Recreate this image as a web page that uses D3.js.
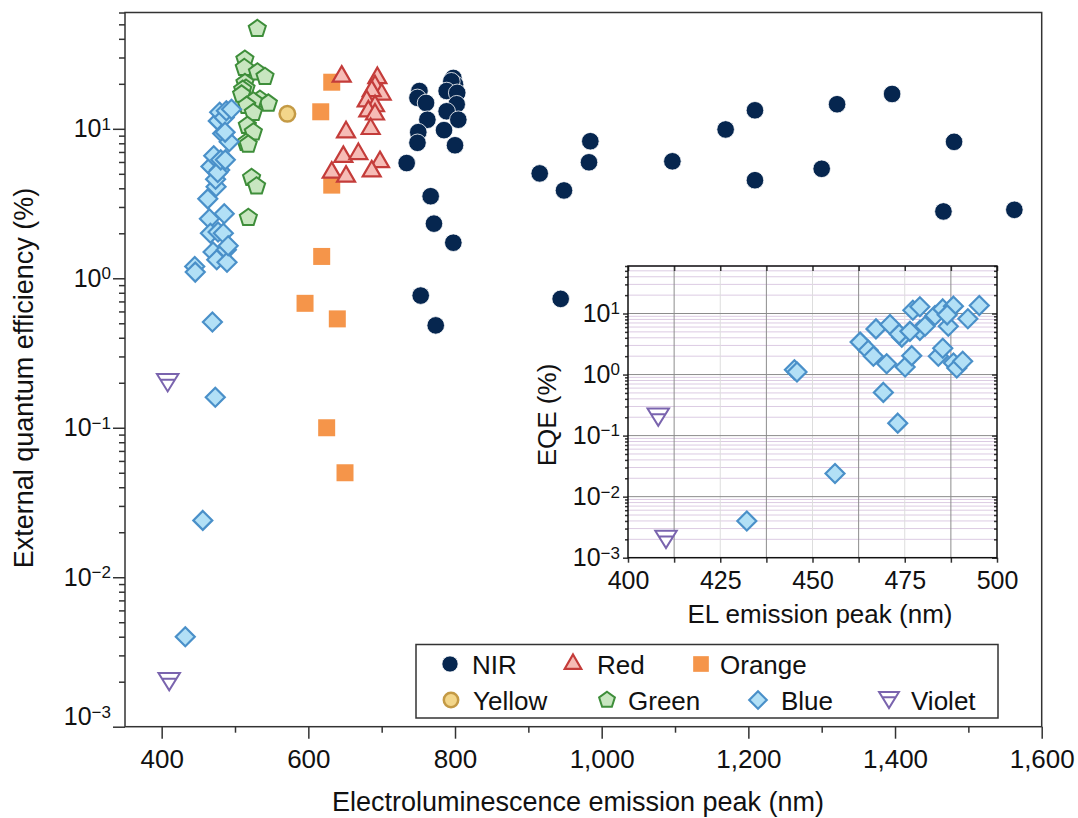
<!DOCTYPE html>
<head>
<meta charset="utf-8">
<script src="https://cdn.jsdelivr.net/npm/d3@7"></script>
<style>
body { margin: 0; background: #fff; font-family: "Liberation Sans", Arial, Helvetica, sans-serif; }
.axis line { stroke: #333; stroke-width: 1.5; }
.axis path { display: none; }
.frame { fill: none; stroke: #333; stroke-width: 1.5; }
</style>
<body>
<script>

// data: [emission peak (nm), EQE (%)]
var nirData = [
  [751.5, 17.9], [748.8, 16.1], [760.5, 14.9], [797.7, 21.9], [800, 19.8], [795, 20.8],
  [788.6, 17.9], [803, 17.4], [802.3, 14.6], [788.6, 13.1], [804.5, 11.5], [762.3, 11.5],
  [785, 9.8], [749.9, 9.5], [748.8, 8.06], [800, 7.76], [734.1, 5.9], [766.8, 3.54],
  [771.3, 2.32], [797.7, 1.73], [753.2, 0.766], [773.7, 0.484], [915.5, 5.03], [948.6, 3.87],
  [984.5, 8.26], [982.7, 5.97], [944.1, 0.728], [1096.4, 6.06], [1169, 9.9], [1209, 13.3],
  [1209, 4.53], [1300, 5.4], [1321, 14.6], [1396, 17.1], [1480.5, 8.18], [1466, 2.8], [1562.7, 2.87]
];
var redData = [
  [645.5, 22.4], [694.1, 21.9], [690.9, 19.3], [700, 17.0], [686.4, 17.9], [679.6, 15.3],
  [690.9, 14.2], [681.8, 13.1], [690.9, 12.5], [685, 10.0], [651.4, 9.5], [647.7, 6.5],
  [668.2, 6.8], [697.7, 6.0], [686.4, 5.2], [631.9, 5.1], [651.4, 4.8]
];
var orangeData = [
  [631.9, 20.5], [616.9, 13.0], [631.9, 4.2], [618.2, 1.40], [595.5, 0.68], [639.5, 0.535],
  [625, 0.1], [650, 0.05]
];
var yellowData = [[571.4, 12.6]];
var greenData = [
  [530.4, 46.7], [513.5, 29.1], [512.7, 25.6], [530.6, 23.9], [540.9, 22.3], [513.6, 20.3],
  [515, 18.6], [510.5, 18.3], [509, 17], [534, 15.7], [545.5, 14.8], [525, 15.3], [516, 14.3],
  [525, 12.8], [516.8, 10.5], [525, 9.5], [514.9, 8.06], [518, 7.85], [522.6, 4.7],
  [529.4, 4.13], [518.2, 2.54]
];
var blueData = [
  [445.1, 1.2], [445.8, 1.1], [432.2, 0.004], [456.1, 0.024], [469.2, 0.51], [473.1, 0.16],
  [462.9, 3.4], [465.1, 2.5], [466.5, 2.0], [467.2, 5.6], [470.1, 1.5], [471, 6.6],
  [474.2, 4.1], [473.5, 4.6], [475.1, 1.33], [476.9, 2.04], [477.2, 11.3], [479.1, 12.9],
  [479.1, 5.3], [476.4, 5.1], [480.5, 6.2], [483.2, 9.3], [484.1, 2.0], [485.3, 2.7],
  [485.3, 11.9], [486.8, 6.2], [488.2, 13.2], [488.2, 1.55], [489.1, 1.28], [490.7, 1.65],
  [492.1, 8.2], [495.2, 13.5], [486.5, 9.5]
];
var violetData = [[408.2, 0.2], [410.3, 0.002]];

var xTicksMain = [400, 600, 800, 1000, 1200, 1400, 1600];
var xMinorMain = [500, 700, 900, 1100, 1300, 1500];
var yDecades = [1e-3, 1e-2, 1e-1, 1, 10];
var yExponents = ["\u22123", "\u22122", "\u22121", "0", "1"];
var xTicksInset = [400, 425, 450, 475, 500];
var xGridInset = [412.5, 437.5, 462.5, 487.5];

// custom marker shapes for d3.symbol
var symPentagon = {
  draw: function(ctx, size) {
    var r = Math.sqrt(size / 2.378);
    for (var i = 0; i < 5; i++) {
      var a = -Math.PI / 2 + i * 2 * Math.PI / 5;
      if (i === 0) ctx.moveTo(r * Math.cos(a), r * Math.sin(a));
      else ctx.lineTo(r * Math.cos(a), r * Math.sin(a));
    }
    ctx.closePath();
  }
};
var symDiamond = {
  draw: function(ctx, size) {
    var r = Math.sqrt(size / 2);
    ctx.moveTo(0, -r); ctx.lineTo(r, 0); ctx.lineTo(0, r); ctx.lineTo(-r, 0); ctx.closePath();
  }
};
var symTriDown = {
  draw: function(ctx, size) {
    var h = Math.sqrt(size), w = h * 0.62;
    ctx.moveTo(-w, -h / 2); ctx.lineTo(w, -h / 2); ctx.lineTo(0, h / 2); ctx.closePath();
    var yb = -h / 2 + h / 3, wb = w * 2 / 3;
    ctx.moveTo(-wb, yb); ctx.lineTo(wb, yb);
  }
};

var series = [
  {name: "NIR", data: nirData, type: d3.symbolCircle, size: 243, fill: "#06264f", stroke: "#fff", sw: 0.8},
  {name: "Orange", data: orangeData, type: d3.symbolSquare, size: 289, fill: "#f5954a", stroke: "none", sw: 0},
  {name: "Red", data: redData, type: d3.symbolTriangle, size: 140, fill: "#f6bcb6", stroke: "#c43c3a", sw: 2.2},
  {name: "Yellow", data: yellowData, type: d3.symbolCircle, size: 191, fill: "#f3d68a", stroke: "#c49a45", sw: 2.5},
  {name: "Green", data: greenData, type: symPentagon, size: 193, fill: "#c8e6c0", stroke: "#3e8e3a", sw: 2},
  {name: "Blue", data: blueData, type: symDiamond, size: 180, fill: "#b2e0f6", stroke: "#4a90c9", sw: 2.2},
  {name: "Violet", data: violetData, type: symTriDown, size: 300, fill: "#fff", stroke: "#7a64ae", sw: 2}
];
function bySeries(n) { return series.find(function(s) { return s.name === n; }); }

var svg = d3.select("body").append("svg")
    .attr("width", 1078)
    .attr("height", 818)
    .style("font-family", "'Liberation Sans', Arial, Helvetica, sans-serif");

// main scales
var x = d3.scaleLinear().domain([350, 1600]).range([125, 1041.7]);
var y = d3.scaleLog().domain([1e-3, 60]).range([726.7, 12.5]);
var isDecade = function(v) { var l = Math.log10(v); return Math.abs(l - Math.round(l)) < 1e-6; };
var yMinor = y.ticks().filter(function(v) { return !isDecade(v); });

function drawPoints(g, sx, sy, s) {
  g.append("g").selectAll("path")
    .data(s.data)
    .enter().append("path")
      .attr("transform", function(d) { return "translate(" + sx(d[0]) + "," + sy(d[1]) + ")"; })
      .attr("d", d3.symbol().type(s.type).size(s.size))
      .attr("fill", s.fill)
      .attr("stroke", s.stroke)
      .attr("stroke-width", s.sw)
      .attr("stroke-linejoin", "miter");
}

// axis text: drop d3's default 10px sans-serif
function axisText(g, size) {
  g.attr("font-size", size).attr("font-family", null);
  g.selectAll("text").attr("fill", "#111");
}

function superLabels(sel, supSize) {
  sel.selectAll(".tick text").each(function(d) {
    var t = d3.select(this);
    var i = yDecades.findIndex(function(v) { return Math.abs(v - d) < d * 1e-6; });
    t.text(null);
    t.append("tspan").text("10");
    t.append("tspan").attr("dy", "-0.45em").attr("font-size", supSize).text(yExponents[i]);
  });
}

// points of the main plot
series.forEach(function(s) { drawPoints(svg, x, y, s); });

// y axis
var gy = svg.append("g").attr("class", "axis").attr("transform", "translate(125,0)");
gy.append("g").call(d3.axisLeft(y).tickValues(yMinor).tickSize(6).tickFormat(""));
var gyMaj = gy.append("g")
    .call(d3.axisLeft(y).tickValues(yDecades).tickSize(12).tickPadding(2).tickFormat(""));
axisText(gyMaj, 25);
superLabels(gyMaj, "17px");
gyMaj.selectAll(".tick text").filter(function(d) { return d === 1e-3; }).attr("dy", "-0.08em");

// x axis
var gx = svg.append("g").attr("class", "axis").attr("transform", "translate(0,726.7)");
gx.append("g").call(d3.axisBottom(x).tickValues(xMinorMain).tickSize(6).tickFormat(""));
var gxMaj = gx.append("g")
    .call(d3.axisBottom(x).tickValues(xTicksMain).tickSize(12).tickPadding(11).tickFormat(d3.format(",")));
axisText(gxMaj, 26);

svg.append("rect").attr("class", "frame")
    .attr("x", 125).attr("y", 12.5).attr("width", 1041.7 - 125).attr("height", 726.7 - 12.5);

// axis titles
svg.append("text")
    .attr("x", 578).attr("y", 810.5)
    .attr("text-anchor", "middle").attr("font-size", 27).attr("fill", "#111")
    .text("Electroluminescence emission peak (nm)");
svg.append("text")
    .attr("transform", "translate(33,378) rotate(-90)")
    .attr("text-anchor", "middle").attr("font-size", 27).attr("fill", "#111")
    .text("External quantum efficiency (%)");

// ---- inset ----
var xi = d3.scaleLinear().domain([400, 500]).range([628, 997]);
var yi = d3.scaleLog().domain([1e-3, 60]).range([557.7, 266]);
var inset = svg.append("g");

inset.append("rect").attr("x", 628).attr("y", 266).attr("width", 997 - 628).attr("height", 557.7 - 266)
    .attr("fill", "#fff");

// grid
inset.append("g").selectAll("line").data(yMinor).enter().append("line")
    .attr("x1", 628).attr("x2", 997).attr("y1", function(d) { return yi(d); }).attr("y2", function(d) { return yi(d); })
    .attr("stroke", "#dccbe3").attr("stroke-width", 1);
inset.append("g").selectAll("line").data(xTicksInset.slice(1, -1)).enter().append("line")
    .attr("y1", 266).attr("y2", 557.7).attr("x1", function(d) { return xi(d); }).attr("x2", function(d) { return xi(d); })
    .attr("stroke", "#dddddd").attr("stroke-width", 1);
inset.append("g").selectAll("line").data(xGridInset).enter().append("line")
    .attr("y1", 266).attr("y2", 557.7).attr("x1", function(d) { return xi(d); }).attr("x2", function(d) { return xi(d); })
    .attr("stroke", "#8c8c8c").attr("stroke-width", 1);
inset.append("g").selectAll("line").data(yDecades.slice(1)).enter().append("line")
    .attr("x1", 628).attr("x2", 997).attr("y1", function(d) { return yi(d); }).attr("y2", function(d) { return yi(d); })
    .attr("stroke", "#8c8c8c").attr("stroke-width", 1);

drawPoints(inset, xi, yi, bySeries("Blue"));
drawPoints(inset, xi, yi, bySeries("Violet"));

// inset axes
var giy = inset.append("g").attr("class", "axis").attr("transform", "translate(628,0)");
giy.append("g").call(d3.axisLeft(yi).tickValues(yMinor).tickSize(3).tickFormat(""));
var giyMaj = giy.append("g")
    .call(d3.axisLeft(yi).tickValues(yDecades).tickSize(5).tickPadding(3).tickFormat(""));
axisText(giyMaj, 25);
superLabels(giyMaj, "17px");
var giyR = inset.append("g").attr("class", "axis").attr("transform", "translate(997,0)");
giyR.append("g").call(d3.axisLeft(yi).tickValues(yMinor).tickSize(3).tickFormat(""));
giyR.append("g").call(d3.axisLeft(yi).tickValues(yDecades).tickSize(5).tickFormat(""));

var gix = inset.append("g").attr("class", "axis").attr("transform", "translate(0,557.7)");
gix.append("g").call(d3.axisBottom(xi).tickValues(xGridInset).tickSize(5).tickFormat(""));
var gixMaj = gix.append("g")
    .call(d3.axisBottom(xi).tickValues(xTicksInset).tickSize(5).tickPadding(9).tickFormat(d3.format("d")));
axisText(gixMaj, 25);
var gixT = inset.append("g").attr("class", "axis").attr("transform", "translate(0,266)");
gixT.append("g").call(d3.axisBottom(xi).tickValues(xTicksInset.concat(xGridInset)).tickSize(5).tickFormat(""));

inset.append("rect").attr("x", 628).attr("y", 266).attr("width", 997 - 628).attr("height", 557.7 - 266)
    .attr("fill", "none").attr("stroke", "#111").attr("stroke-width", 1.5);

inset.append("text")
    .attr("x", 820).attr("y", 623)
    .attr("text-anchor", "middle").attr("font-size", 26).attr("fill", "#111")
    .text("EL emission peak (nm)");
inset.append("text")
    .attr("transform", "translate(556,415) rotate(-90)")
    .attr("text-anchor", "middle").attr("font-size", 26).attr("fill", "#111")
    .text("EQE (%)");

// ---- legend ----
var legendItems = [
  {name: "NIR", mx: 450, tx: 472, row: 0},
  {name: "Red", mx: 573, tx: 597, row: 0},
  {name: "Orange", mx: 701, tx: 720, row: 0},
  {name: "Yellow", mx: 451, tx: 473, row: 1},
  {name: "Green", mx: 607, tx: 628, row: 1},
  {name: "Blue", mx: 758, tx: 781, row: 1},
  {name: "Violet", mx: 889, tx: 911, row: 1}
];
var legend = svg.append("g");
legend.append("rect")
    .attr("x", 416).attr("y", 644.5).attr("width", 998 - 416).attr("height", 718 - 644.5)
    .attr("fill", "#fff").attr("stroke", "#333").attr("stroke-width", 1.5);
legendItems.forEach(function(it) {
  var s = bySeries(it.name);
  var cy = it.row === 0 ? 664 : 700;
  legend.append("path")
      .attr("transform", "translate(" + it.mx + "," + cy + ")")
      .attr("d", d3.symbol().type(s.type).size(s.size * 0.85))
      .attr("fill", s.fill).attr("stroke", s.stroke).attr("stroke-width", s.sw);
  legend.append("text")
      .attr("x", it.tx).attr("y", cy + 9.5)
      .attr("font-size", 26).attr("fill", "#111")
      .text(it.name);
});

</script>
</body>
